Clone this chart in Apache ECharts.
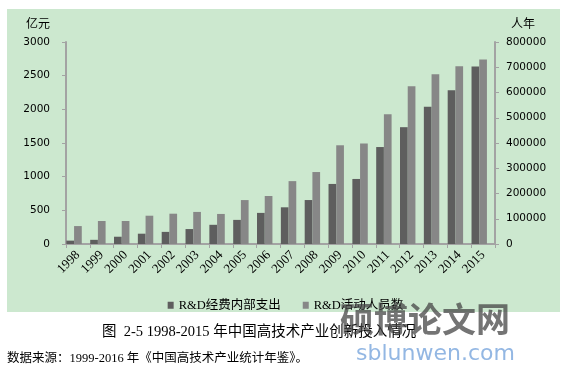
<!DOCTYPE html>
<html>
<head>
<meta charset="utf-8">
<script src="https://cdn.jsdelivr.net/npm/echarts@6/dist/echarts.min.js"></script>
<style>
html,body{margin:0;padding:0;background:#fff;}
#chart{width:571px;height:374px;}
</style>
</head>
<body>
<div id="chart"></div>
<script>
const categories = ['1998','1999','2000','2001','2002','2003','2004','2005','2006','2007','2008','2009','2010','2011','2012','2013','2014','2015'];
const rdSpending = [50, 62, 108, 153, 180, 222, 285, 358, 462, 545, 653, 892, 966, 1440, 1735, 2040, 2282, 2636];
const rdPersonnel = [71000, 91000, 91000, 112000, 120000, 127000, 119000, 174000, 190000, 249000, 285000, 391000, 398000, 514000, 625000, 672000, 704000, 731000];
const leftTicks = {min: 0, max: 3000, interval: 500};
const rightTicks = {min: 0, max: 800000, interval: 100000};
const seriesNames = ['R&D经费内部支出', 'R&D活动人员数'];

const chart = echarts.init(document.getElementById('chart'), null, {renderer: 'canvas'});
const axisColor = '#a3a3a3';
const serif = '"Liberation Serif", "Noto Sans CJK SC", serif';
const sans = '"DejaVu Sans", Verdana, sans-serif';

const option = {
  backgroundColor: '#ffffff',
  animation: false,
  grid: {left: 66, right: 76, top: 42, bottom: 130},
  legend: {
    data: seriesNames,
    left: 'center',
    top: 294,
    icon: 'rect',
    itemWidth: 6,
    itemHeight: 7,
    itemGap: 22,
    textStyle: {fontFamily: serif, fontSize: 12.5, color: '#000'}
  },
  xAxis: {
    type: 'category',
    data: categories,
    axisLine: {lineStyle: {color: axisColor, width: 2}},
    axisTick: {show: true, length: 4, lineStyle: {color: axisColor, width: 1}},
    axisLabel: {rotate: 45, interval: 0, margin: 9, fontFamily: serif, fontSize: 13, color: '#000'}
  },
  yAxis: [
    {
      type: 'value', min: leftTicks.min, max: leftTicks.max, interval: leftTicks.interval,
      axisLine: {show: true, lineStyle: {color: axisColor, width: 2}},
      axisTick: {show: true, length: 4, lineStyle: {color: axisColor}},
      splitLine: {show: false},
      axisLabel: {margin: 16, fontFamily: sans, fontSize: 10.5, color: '#000', formatter: v => String(v)}
    },
    {
      type: 'value', min: rightTicks.min, max: rightTicks.max, interval: rightTicks.interval,
      position: 'right',
      axisLine: {show: true, lineStyle: {color: axisColor, width: 2}},
      axisTick: {show: true, length: 4, lineStyle: {color: axisColor}},
      splitLine: {show: false},
      axisLabel: {margin: 11, fontFamily: sans, fontSize: 10.5, color: '#000', formatter: v => String(v)}
    }
  ],
  series: [
    {name: seriesNames[0], type: 'bar', yAxisIndex: 0, data: rdSpending,
     itemStyle: {color: '#5e5e5e'}, barGap: '0%', barCategoryGap: '3%'},
    {name: seriesNames[1], type: 'bar', yAxisIndex: 1, data: rdPersonnel,
     itemStyle: {color: '#878787'}, barGap: '0%', barCategoryGap: '3%'},
    {name: 'spacer', type: 'bar', yAxisIndex: 1, data: categories.map(() => null),
     barGap: '0%', barCategoryGap: '3%', silent: true}
  ],
  graphic: [
    {type: 'rect', z: -100, silent: true, shape: {x: 7, y: 9, width: 553, height: 303}, style: {fill: '#cce8cf'}},
    {type: 'text', left: 26, top: 17, silent: true, style: {text: '亿元', font: '12px "Noto Sans CJK SC"', fill: '#000'}},
    {type: 'text', left: 511, top: 17, silent: true, style: {text: '人年', font: '12px "Noto Sans CJK SC"', fill: '#000'}},
    {type: 'text', left: 102, top: 325, silent: true, style: {text: '图  2-5 1998-2015 年中国高技术产业创新投入情况', font: '14.5px ' + serif, fill: '#000'}},
    {type: 'text', left: 7, top: 352, silent: true, style: {text: '数据来源：1999-2016 年《中国高技术产业统计年鉴》。', font: '12.5px ' + serif, fill: '#000'}},
    {type: 'text', left: 340, top: 302, z: 50, silent: true, style: {text: '硕博论文网', font: 'bold 34px "Noto Sans CJK SC"', fill: 'rgba(70,70,70,0.75)'}},
    {type: 'text', left: 356, top: 343, z: 50, silent: true, style: {text: 'sblunwen.com', font: '22px "DejaVu Sans"', fill: 'rgba(120,165,220,0.8)'}}
  ]
};
chart.setOption(option);
</script>
</body>
</html>
